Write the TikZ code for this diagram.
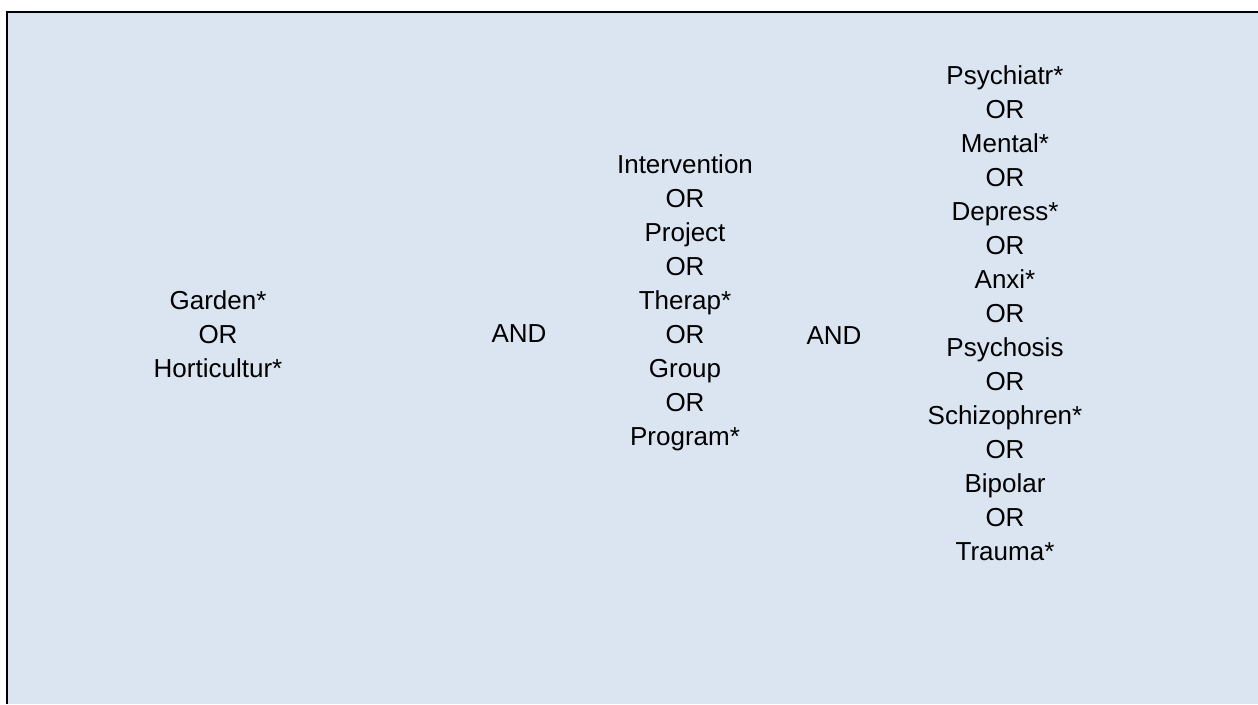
\documentclass[tikz,border=0pt]{standalone}
\usepackage{fontspec}
\setmainfont{Liberation Sans}
\definecolor{panelfill}{RGB}{219,229,241}
\begin{document}
\begin{tikzpicture}[x=1pt,y=-1pt,
  term/.style={inner sep=0pt, align=center, text=black,
    font=\fontsize{26}{34}\selectfont}]
\useasboundingbox (0,0) rectangle (1258,704);
% panel background with top and left rule
\fill[panelfill] (7,12) rectangle (1258,704);
\draw[line width=2.4pt] (7,704) -- (7,12) -- (1258,12);
% search term groups
\node[term] (garden) at (218,334) {Garden*\\OR\\Horticultur*};
\node[term] (and1) at (519,334) {AND};
\node[term] (inter) at (685,303) {Intervention\\OR\\Project\\OR\\Therap*\\OR\\Group\\OR\\Program*};
\node[term] (and2) at (834,336) {AND};
\node[term] (psych) at (1005,313) {Psychiatr*\\OR\\Mental*\\OR\\Depress*\\OR\\Anxi*\\OR\\Psychosis\\OR\\Schizophren*\\OR\\Bipolar\\OR\\Trauma*};
\end{tikzpicture}
\end{document}
